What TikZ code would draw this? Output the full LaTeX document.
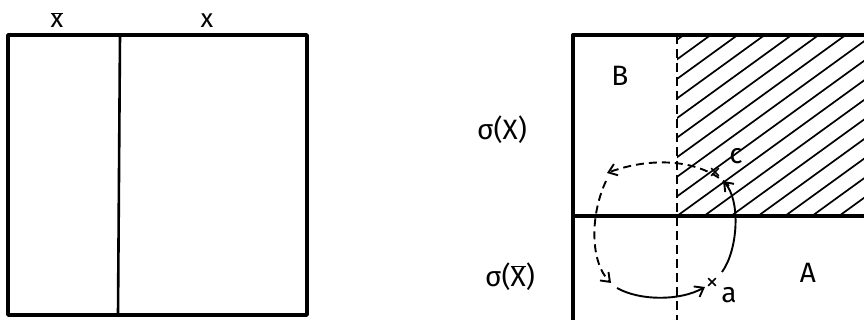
\documentclass[tikz,border=0pt]{standalone}
\usepackage{fontspec}
\setmainfont{Fira Sans}
\usetikzlibrary{arrows.meta,shapes.misc}
\begin{document}
\begin{tikzpicture}[x=1pt,y=-1pt,
  lbl/.style={font=\fontsize{28}{32}\selectfont, inner sep=0pt},
  toplbl/.style={font=\fontsize{26}{30}\selectfont, inner sep=0pt},
  heavy/.style={line width=3.4pt, line join=round},
  divider/.style={line width=2.6pt},
  hatchline/.style={line width=1.7pt},
  dashline/.style={line width=2.2pt, dash pattern=on 9pt off 5pt},
  arr/.style={line width=1.9pt, -{Straight Barb[length=8pt,width=12pt,line width=1.9pt]}},
  darr/.style={arr, dash pattern=on 8pt off 5pt},
  crossmark/.style={cross out, draw, line width=1.7pt, minimum size=6pt, inner sep=0pt}]
\useasboundingbox (0,0) rectangle (864,320);
\clip (0,0) rectangle (864,320);
% left diagram
\draw[heavy] (8,35) rectangle (307,315);
\draw[divider] (120,35) -- (118,315);
\node[toplbl] (xbar) at (57,20) {$\overline{\hbox{x}}$};
\node[toplbl] (xlab) at (207,21) {x};
% right diagram: hatching
\begin{scope}
  \clip (677,35) rectangle (880,216);
  \foreach \k in {-12,...,8} {
    \draw[hatchline] (677+27*\k,216) -- ++(400,-290);
  }
\end{scope}
\draw[heavy] (573,330) -- (573,35) -- (880,35);
\draw[heavy] (573,216) -- (880,216);
\draw[dashline] (677,35) -- (677,322);
\node[lbl] (sx) at (502,130) {σ(X)};
\node[lbl] (sxb) at (510,277) {σ($\overline{\hbox{X}}$)};
\node[lbl] (B) at (620,76) {B};
\node[lbl] (A) at (808,273) {A};
\node[lbl] (clab) at (736,156) {c};
\node[lbl] (alab) at (729,295) {a};
\node[crossmark] (cc) at (715,172) {};
\node[crossmark] (ca) at (712,282) {};
% arrows
\coordinate (s1) at (722,272);
\coordinate (e1) at (723,181);
\draw[arr] (s1) .. controls (738,250) and (741,200) .. (e1);
\coordinate (s2) at (729,186);
\coordinate (e2) at (607,173);
\draw[darr] (s2) .. controls (700,158) and (650,157) .. (e2);
\coordinate (s3) at (606,181);
\coordinate (e3) at (611,283);
\draw[darr] (s3) .. controls (590,215) and (590,262) .. (e3);
\coordinate (s4) at (617,288);
\coordinate (e4) at (705,287);
\draw[arr] (s4) .. controls (640,301) and (680,301) .. (e4);
\end{tikzpicture}
\end{document}
